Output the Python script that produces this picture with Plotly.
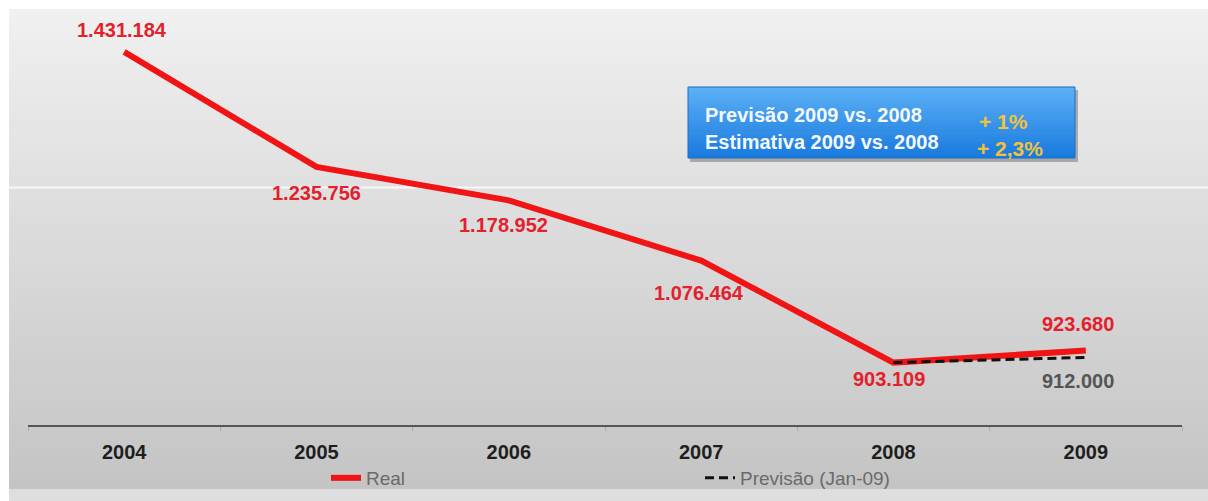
import plotly.graph_objects as go

# ---- data ----
years = ["2004", "2005", "2006", "2007", "2008", "2009"]
real_values = [1431184, 1235756, 1178952, 1076464, 903109, 923680]
forecast_years = ["2008", "2009"]
forecast_values = [903109, 912000]
box_labels = ["Previsão 2009 vs. 2008", "Estimativa 2009 vs. 2008"]
box_values = ["+ 1%", "+ 2,3%"]
series_names = ["Real", "Previsão (Jan-09)"]

# ---- style / layout helpers (page pixel coords) ----
OFF = 0
W, H = 1208, 501
L, R, T, B = 28, 26, 10, 76   # plot area: page x 28..1182, page y 10..425
PW, PH = W - L - R, H - T - B


def px(x):
    return (x - OFF - L) / PW


def py(y):
    return (H - B - (y - OFF)) / PH


def fmt(v):
    return f"{v:,}".replace(",", ".")


RED = "#f01414"
LABEL_RED = "#e3202c"
FONT = "Arial, Liberation Sans, sans-serif"

# label offsets (xshift, yshift) for each real point
real_offsets = [(-2, 22), (0, -26), (-5, -25), (-2, -32), (-5, -16), (-8, 26)]
forecast_offsets = [None, (-8, -24)]

fig = go.Figure()

fig.add_trace(go.Scatter(
    x=years, y=real_values, mode="lines", name=series_names[0],
    line=dict(color=RED, width=6), legend="legend", hoverinfo="skip",
))
fig.add_trace(go.Scatter(
    x=forecast_years, y=forecast_values, mode="lines", name=series_names[1],
    line=dict(color="#111111", width=3, dash="9px,5px"), legend="legend2",
    hoverinfo="skip",
))

annotations = []
for yr, v, (dx, dy) in zip(years, real_values, real_offsets):
    annotations.append(dict(
        x=years.index(yr), y=v, xref="x", yref="y", text=fmt(v), showarrow=False,
        xshift=dx, yshift=dy,
        font=dict(family=FONT, size=20, color=LABEL_RED, weight="bold"),
    ))
for yr, v, off in zip(forecast_years, forecast_values, forecast_offsets):
    if off is None:
        continue
    annotations.append(dict(
        x=years.index(yr), y=v, xref="x", yref="y", text=fmt(v), showarrow=False,
        xshift=off[0], yshift=off[1],
        font=dict(family=FONT, size=20, color="#555555", weight="bold"),
    ))

# blue box texts
for i, (lab, val) in enumerate(zip(box_labels, box_values)):
    ty = [115, 142][i]
    vy = [121, 148][i]
    vx = [979, 977][i]
    annotations.append(dict(
        x=px(705), y=py(ty), xref="paper", yref="paper", text=lab,
        showarrow=False, xanchor="left", yanchor="middle", xshift=-2,
        font=dict(family=FONT, size=20, color="#f4f8ff", weight="bold"),
    ))
    annotations.append(dict(
        x=px(vx), y=py(vy), xref="paper", yref="paper", text=val,
        showarrow=False, xanchor="left", yanchor="middle", xshift=-2,
        font=dict(family=FONT, size=21, color="#f2c23a", weight="bold"),
    ))

shapes = []
# background gradient (slide-like)
top_y, bot_y = 9, 490
steps = 48
c0, c1 = 240, 196
for i in range(steps):
    y0 = top_y + (bot_y - top_y) * i / steps
    y1 = top_y + (bot_y - top_y) * (i + 1) / steps + 0.6
    c = round(c0 + (c1 - c0) * (i + 0.5) / steps)
    shapes.append(dict(
        type="rect", xref="paper", yref="paper", layer="below",
        x0=px(9), x1=px(1212), y0=py(y0), y1=py(y1),
        fillcolor=f"rgb({c},{c},{c})", line=dict(width=0),
    ))
# bottom light strip
shapes.append(dict(
    type="rect", xref="paper", yref="paper", layer="below",
    x0=px(9), x1=px(1212), y0=py(489), y1=py(505),
    fillcolor="rgb(222,222,222)", line=dict(width=0),
))
# highlight line
shapes.append(dict(
    type="line", xref="paper", yref="paper", layer="below",
    x0=px(9), x1=px(1212), y0=py(187.5), y1=py(187.5),
    line=dict(color="rgb(248,248,248)", width=2),
))

# blue box: shadow + gradient
shapes.append(dict(
    type="rect", xref="paper", yref="paper", layer="below",
    x0=px(690), x1=px(1078), y0=py(90), y1=py(162),
    fillcolor="rgba(60,60,60,0.35)", line=dict(width=0),
))
bx0, bx1, by0, by1 = 688, 1075, 87, 158
bsteps = 20
for i in range(bsteps):
    t = (i + 0.5) / bsteps
    r = round(92 + (24 - 92) * t)
    g = round(176 + (122 - 176) * t)
    b = round(246 + (222 - 246) * t)
    y0 = by0 + (by1 - by0) * i / bsteps
    y1 = by0 + (by1 - by0) * (i + 1) / bsteps + 0.6
    shapes.append(dict(
        type="rect", xref="paper", yref="paper", layer="below",
        x0=px(bx0), x1=px(bx1), y0=py(y0), y1=py(min(y1, by1)),
        fillcolor=f"rgb({r},{g},{b})", line=dict(width=0),
    ))
shapes.append(dict(
    type="rect", xref="paper", yref="paper", layer="below",
    x0=px(bx0), x1=px(bx1), y0=py(by0), y1=py(by1),
    fillcolor="rgba(0,0,0,0)", line=dict(color="#1a6fc4", width=1),
))

fig.update_layout(
    width=W, height=H,
    margin=dict(l=L, r=R, t=T, b=B, pad=0, autoexpand=False),
    paper_bgcolor="white",
    plot_bgcolor="rgba(0,0,0,0)",
    showlegend=True,
    legend=dict(
        x=px(326), y=py(478), xanchor="left", yanchor="middle",
        orientation="h", bgcolor="rgba(0,0,0,0)",
        font=dict(family=FONT, size=19, color="#6a6a6a"),
        itemwidth=30,
    ),
    legend2=dict(
        x=px(700), y=py(478), xanchor="left", yanchor="middle",
        orientation="h", bgcolor="rgba(0,0,0,0)",
        font=dict(family=FONT, size=19, color="#6a6a6a"),
        itemwidth=30,
    ),
    xaxis=dict(
        type="category", categoryorder="array", categoryarray=years,
        range=[-0.5, len(years) - 0.5],
        showline=True, linecolor="#555555", linewidth=1.5,
        showgrid=False, zeroline=False,
        ticks="outside", tickson="boundaries", ticklen=4, tickcolor="#aaaaaa",
        tickfont=dict(family=FONT, size=20, color="#1e1e1e", weight="bold"),
        ticklabelstandoff=8,
    ),
    yaxis=dict(
        visible=False, range=[797000, 1502500], showgrid=False, zeroline=False,
    ),
    annotations=annotations,
    shapes=shapes,
)

fig.write_html(
    "out.html",
    config={"displayModeBar": False},
    post_script="document.body.style.margin='0';document.body.style.overflow='hidden';",
)
